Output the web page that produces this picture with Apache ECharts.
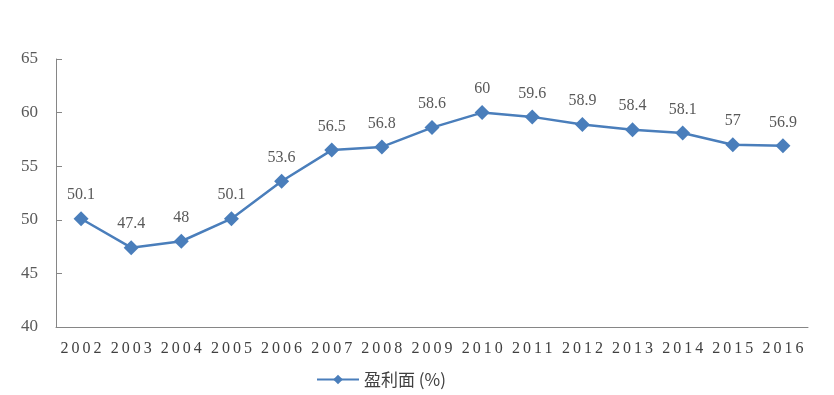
<!DOCTYPE html>
<html><head><meta charset="utf-8">
<script src="https://cdn.jsdelivr.net/npm/echarts@6/dist/echarts.min.js"></script>
<style>html,body{margin:0;padding:0;background:#fff}#c{width:834px;height:395px}</style>
</head><body><div id="c"></div>
<script>
const years = ['2002','2003','2004','2005','2006','2007','2008','2009','2010','2011','2012','2013','2014','2015','2016'];
const profitShare = [50.1,47.4,48,50.1,53.6,56.5,56.8,58.6,60,59.6,58.9,58.4,58.1,57,56.9];
const seriesName = '盈利面 (%)';
// widen the spacing of year tick labels only (reference uses letter-spaced year labels)
(function(){
  const proto = CanvasRenderingContext2D.prototype;
  const orig = proto.fillText;
  proto.fillText = function(t, x, y, m){
    const isYear = typeof t === 'string' && years.indexOf(t) >= 0;
    if ('letterSpacing' in this) this.letterSpacing = isYear ? '3px' : '0px';
    const r = orig.call(this, t, isYear ? x + 1.5 : x, y, m);
    if ('letterSpacing' in this) this.letterSpacing = '0px';
    return r;
  };
})();
const chart = echarts.init(document.getElementById('c'), null, {renderer:'canvas'});
chart.setOption({
  animation:false,
  grid:{left:56,right:26,top:59,bottom:68},
  legend:{left:311,top:366,itemWidth:42,itemHeight:12,itemGap:6,
    textStyle:{fontFamily:'Noto Sans CJK SC',fontSize:17,color:'#404040'},
    data:[seriesName]},
  xAxis:{type:'category',data:years,boundaryGap:true,
    axisLine:{lineStyle:{color:'#868686',width:1}},
    axisTick:{inside:true,length:6,lineStyle:{color:'#868686'}},
    axisLabel:{fontFamily:'Liberation Serif',fontSize:16,color:'#404040',margin:14}},
  yAxis:{type:'value',min:40,max:65,interval:5,
    axisLine:{show:true,lineStyle:{color:'#868686',width:1}},
    axisTick:{show:true,inside:true,length:6,lineStyle:{color:'#868686'}},
    splitLine:{show:false},
    axisLabel:{fontFamily:'Liberation Serif',fontSize:17,color:'#595959',margin:18}},
  series:[{name:seriesName,type:'line',data:profitShare,
    symbol:'diamond',symbolSize:15,
    lineStyle:{color:'#4A7EBB',width:2.5},
    itemStyle:{color:'#4A7EBB'},
    label:{show:true,position:'top',distance:8,fontFamily:'Liberation Serif',fontSize:16,color:'#595959'}}]
});
</script></body></html>
